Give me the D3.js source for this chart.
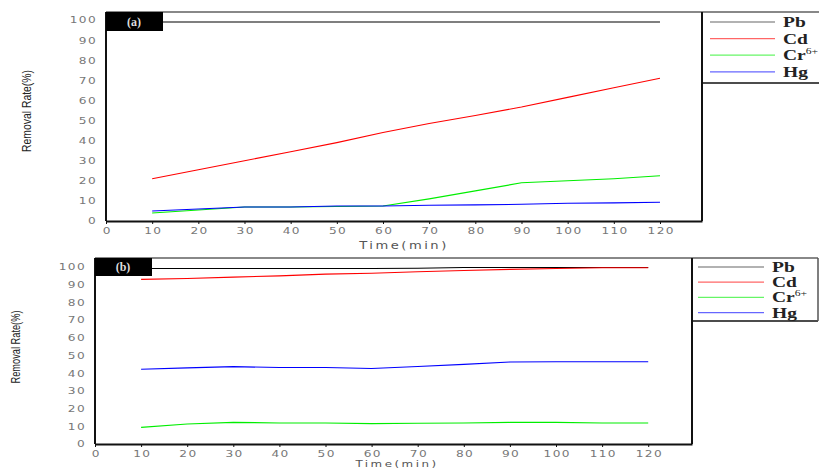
<!DOCTYPE html>
<html><head><meta charset="utf-8">
<script src="https://cdn.jsdelivr.net/npm/d3@7"></script>
<style>body{margin:0;background:#fff}svg{display:block}</style>
</head><body><svg id="c" width="819" height="468"></svg>
<script>
const times = [10,20,30,40,50,60,70,80,90,100,110,120];
const xTicks = [0,10,20,30,40,50,60,70,80,90,100,110,120];
const yTicks = [0,10,20,30,40,50,60,70,80,90,100];
const seriesNames = ["Pb","Cd","Cr","Hg"];
const seriesColors = ["#000000","#ff0000","#00ee00","#0000ff"];
// panel (a)
const pbA = [99,99,99,99,99,99,99,99,99,99,99,99];
const cdA = [21,25.5,30,34.5,39,44,48.5,52.5,56.7,61.5,66.3,71];
const crA = [4,5.5,7,7,7.2,7.5,11,15,19,20,21,22.5];
const hgA = [5,6,7,7,7.5,7.5,7.8,8,8.3,8.8,9,9.3];
// panel (b)
const pbB = [99.2,99.2,99.2,99.2,99.2,99.2,99.3,99.7,99.7,99.7,99.7,99.7];
const cdB = [93,93.5,94.3,95,96,96.5,97.3,98,98.7,99.2,99.6,99.6];
const crB = [9.4,11.3,12.2,11.9,11.9,11.5,11.7,11.9,12.2,12.2,11.9,11.9];
const hgB = [42.2,43,43.7,43.2,43.2,42.7,43.8,45,46.3,46.5,46.5,46.5];

const svg = d3.select("#c");
const SX = 1.35, LS = 1;

function panel(o){
  const g = svg.append("g");
  const x = d3.scaleLinear().domain([0,o.xmax]).range([o.left,o.right]);
  const y = d3.scaleLinear().domain([0,o.ymax]).range([o.bottom,o.top]);
  const line = d3.line().x((d,i)=>x(times[i])).y(d=>y(d));
  o.series.forEach((s,k)=>{
    g.append("path").attr("d",line(s)).attr("fill","none")
     .attr("stroke",seriesColors[k]).attr("stroke-width",1.1);
  });
  // frame
  g.append("line").attr("x1",o.left).attr("x2",o.legendRight).attr("y1",o.top).attr("y2",o.top)
   .attr("stroke","#888").attr("stroke-width",2);
  g.append("line").attr("x1",o.left).attr("x2",o.left).attr("y1",o.top).attr("y2",o.bottom)
   .attr("stroke","#111").attr("stroke-width",2);
  g.append("line").attr("x1",o.right).attr("x2",o.right).attr("y1",o.top).attr("y2",o.bottom)
   .attr("stroke","#111").attr("stroke-width",2);
  // x axis
  const xa = g.append("g").attr("transform",`translate(0,${o.bottom})`)
    .call(d3.axisBottom(x).tickValues(xTicks).tickSize(3).tickSizeOuter(0));
  xa.select(".domain").attr("stroke","#111").attr("stroke-width",2);
  xa.selectAll(".tick line").attr("stroke","#111");
  xa.selectAll("text").attr("fill","#777").attr("font-family","DejaVu Sans")
    .attr("font-size",9).attr("letter-spacing",LS).attr("dx",LS/2)
    .attr("transform",`scale(${SX},1)`).attr("dy","0.75em");
  // y axis labels
  const ya = g.append("g").attr("transform",`translate(${o.left},0)`)
    .call(d3.axisLeft(y).tickValues(yTicks).tickSize(0));
  ya.select(".domain").remove();
  ya.selectAll("text").attr("fill","#777").attr("font-family","DejaVu Sans")
    .attr("font-size",9).attr("letter-spacing",LS)
    .attr("transform",`scale(${SX},1)`).attr("x",(-10+LS)/SX);
  // axis titles
  g.append("text").attr("transform",`translate(${o.ylabX},${o.ylabY}) rotate(-90)`)
   .attr("text-anchor","middle").attr("font-family","Liberation Sans").attr("font-size",12)
   .attr("textLength",o.ylabLen).attr("lengthAdjust","spacingAndGlyphs").attr("fill","#222")
   .text("Removal Rate(%)");
  g.append("text").attr("transform",`translate(${o.xlabX},${o.xlabY}) scale(1.25,1)`)
   .attr("text-anchor","middle")
   .attr("font-family","DejaVu Sans").attr("font-size",o.xlabSize).attr("letter-spacing",2)
   .attr("fill","#555").text("Time(min)");
  // label box
  g.append("rect").attr("x",o.left).attr("y",o.top).attr("width",57).attr("height",o.boxH).attr("fill","#000");
  g.append("text").attr("x",o.left+28).attr("y",o.top+o.boxH/2+4).attr("text-anchor","middle")
   .attr("font-family","Liberation Serif").attr("font-weight","bold").attr("font-size",12)
   .attr("fill","#ddd").text(o.label);
  // legend
  g.append("line").attr("x1",o.right).attr("x2",o.legendRight).attr("y1",o.legBottom).attr("y2",o.legBottom)
   .attr("stroke","#111").attr("stroke-width",1.5);
  if(o.legendRight<819){
    g.append("line").attr("x1",o.legendRight).attr("x2",o.legendRight).attr("y1",o.top).attr("y2",o.legBottom)
     .attr("stroke","#555").attr("stroke-width",1.5);
  }
  seriesNames.forEach((n,k)=>{
    const yy = o.legY0 + k*o.legDy;
    g.append("line").attr("x1",o.legX1).attr("x2",o.legX2).attr("y1",yy).attr("y2",yy)
     .attr("stroke",seriesColors[k]).attr("stroke-opacity",0.6).attr("stroke-width",1.2);
    const tx = o.legX2+8;
    const t = g.append("text").attr("transform",`translate(${tx},${yy+5}) scale(1.3,1)`)
     .attr("font-family","Liberation Serif").attr("font-weight","bold").attr("font-size",15)
     .attr("fill","#222").text(n);
    if(n==="Cr"){
      t.append("tspan").attr("dy",-6).attr("font-size",9).attr("font-weight","normal").text("6+");
    }
  });
}

panel({left:106,right:702,top:12,bottom:221,xmax:129.1,ymax:104,
  series:[pbA,cdA,crA,hgA],label:"(a)",boxH:19,legendRight:830,legBottom:83,
  legX1:710,legX2:775,legY0:22,legDy:16.6,
  ylabX:31,ylabY:111,ylabLen:82,xlabX:404,xlabY:249,xlabSize:10.5});
panel({left:95,right:692,top:258,bottom:444,xmax:129.5,ymax:105.1,
  series:[pbB,cdB,crB,hgB],label:"(b)",boxH:18,legendRight:818,legBottom:321,
  legX1:698,legX2:764,legY0:267,legDy:15.2,
  ylabX:20,ylabY:347,ylabLen:73,xlabX:397,xlabY:466.5,xlabSize:9.5});
</script></body></html>
